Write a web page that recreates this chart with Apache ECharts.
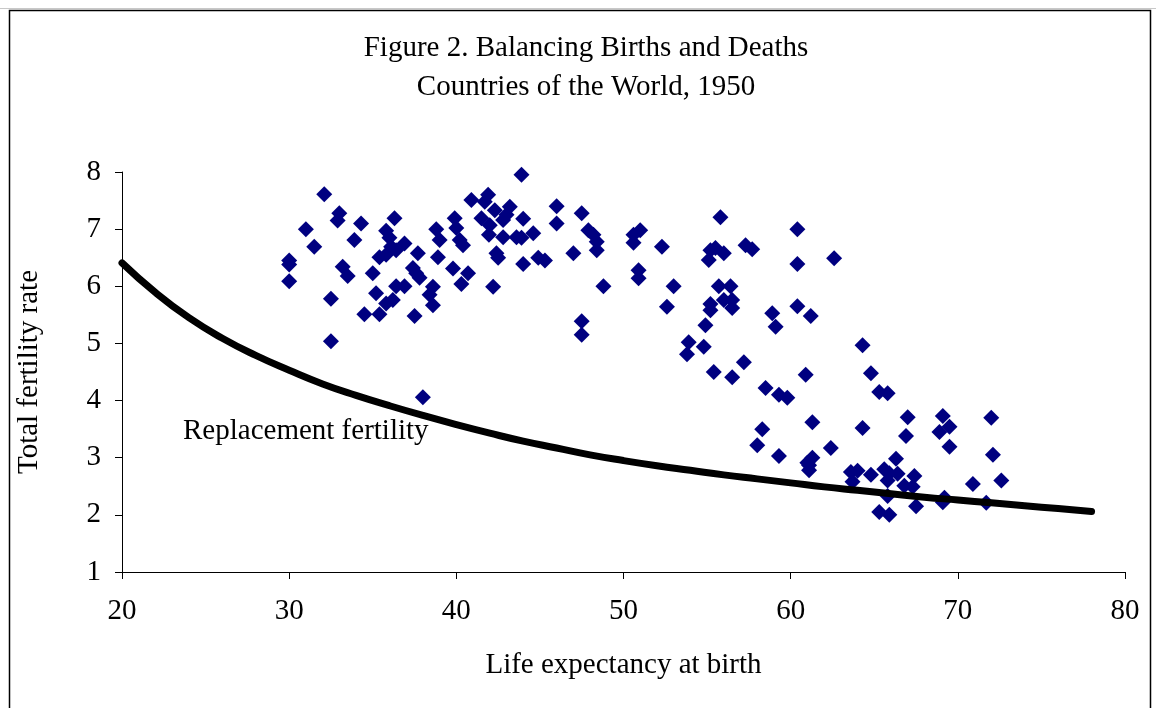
<!DOCTYPE html>
<html>
<head>
<meta charset="utf-8">
<script src="https://cdn.jsdelivr.net/npm/echarts@6/dist/echarts.min.js"></script>
<style>
html,body{margin:0;padding:0;background:#fff;}
#chart{width:1156px;height:708px;}
</style>
</head>
<body>
<div id="chart"></div>
<script>
// Scatter: countries of the world, 1950
var lifeExp = [
  30.0, 30.0, 30.0, 32.1, 33.0, 32.9, 31.0, 34.3, 36.3, 33.9,
  31.5, 33.2, 33.5, 32.5, 32.5, 35.0, 35.2, 34.5, 35.4, 35.8,
  36.2, 35.8, 36.0, 36.1, 36.9, 35.4, 35.8, 36.4, 37.7, 36.4,
  36.9, 37.4, 37.6, 37.8, 37.5, 38.8, 39.0, 38.9, 38.6, 38.4,
  38.6, 39.8, 39.9, 40.0, 40.2, 40.3, 38.0, 40.9, 43.9, 41.9,
  41.7, 42.3, 43.2, 43.0, 42.8, 41.5, 42.0, 44.0, 40.4, 41.95,
  42.8, 43.6, 43.9, 44.6, 42.4, 42.5, 44.0, 44.9, 45.3, 40.7,
  42.2, 46.0, 46.0, 47.5, 47.0, 47.9, 48.2, 48.4, 48.4, 48.8,
  47.5, 47.5, 50.6, 51.0, 50.6, 50.9, 50.9, 52.3, 55.8, 60.4,
  60.4, 55.2, 55.5, 56.0, 55.1, 57.3, 57.7, 53.0, 52.6, 55.7,
  56.4, 55.2, 55.2, 56.0, 56.5, 56.5, 54.9, 53.9, 53.8, 54.8,
  55.4, 56.5, 57.2, 58.9, 59.1, 60.4, 61.2, 60.9, 58.5, 59.3,
  59.8, 58.3, 58.0, 59.3, 61.3, 61.3, 61.0, 61.1, 61.1, 62.4,
  62.6, 64.3, 64.8, 65.3, 65.8, 64.3, 67.0, 66.9, 69.1, 69.5,
  68.9, 69.5, 72.0, 72.1, 63.6, 64.0, 63.7, 64.8, 65.6, 65.9,
  66.3, 66.4, 65.8, 66.8, 67.4, 67.3, 67.5, 65.3, 65.9, 65.8,
  69.1, 70.9, 72.6, 71.7, 69.2
];
var totalFertility = [
  6.45, 6.38, 6.09, 7.61, 7.28, 7.15, 7.00, 7.10, 7.19, 6.81,
  6.69, 6.34, 6.18, 5.78, 5.04, 6.23, 5.88, 5.51, 5.51, 5.70,
  5.76, 6.97, 6.85, 6.69, 6.75, 6.51, 6.55, 6.63, 6.58, 6.00,
  6.00, 6.32, 6.23, 6.15, 5.48, 7.00, 6.81, 6.51, 5.99, 5.85,
  5.67, 6.31, 7.19, 7.02, 6.81, 6.04, 4.06, 7.51, 7.95, 7.60,
  7.48, 7.33, 7.39, 7.25, 7.16, 7.19, 7.07, 7.18, 6.72, 6.90,
  6.86, 6.86, 6.85, 6.93, 6.58, 6.50, 6.39, 6.50, 6.45, 6.23,
  5.99, 7.40, 7.10, 7.28, 6.58, 6.98, 6.90, 6.78, 6.63, 6.00,
  5.39, 5.15, 6.90, 6.98, 6.76, 6.28, 6.14, 6.69, 7.21, 7.00,
  6.39, 6.63, 6.67, 6.58, 6.46, 6.72, 6.65, 6.00, 5.64, 6.00,
  6.00, 5.69, 5.58, 5.76, 5.76, 5.62, 5.32, 5.02, 4.81, 4.94,
  4.50, 4.41, 4.67, 5.53, 5.29, 5.65, 5.48, 4.45, 4.22, 4.10,
  4.05, 3.50, 3.22, 3.03, 3.62, 3.00, 2.91, 2.78, 2.87, 3.17,
  6.49, 4.97, 4.48, 4.15, 4.13, 3.52, 3.71, 3.38, 3.73, 3.54,
  3.45, 3.19, 3.70, 3.05, 2.75, 2.77, 2.58, 2.70, 2.80, 2.73,
  2.98, 2.72, 2.60, 2.51, 2.68, 2.49, 2.15, 2.05, 2.00, 2.33,
  2.22, 2.54, 2.60, 2.21, 2.30
];
// Replacement fertility curve
var curveX = [20, 22, 24, 26, 28, 30, 32, 34, 36, 38, 40, 42, 44, 46, 48, 50, 52, 54, 56, 58, 60, 62, 64, 66, 68, 70, 72, 74, 76, 78];
var curveY = [6.41, 5.89, 5.45, 5.09, 4.79, 4.53, 4.29, 4.09, 3.91, 3.74, 3.58, 3.43, 3.29, 3.17, 3.05, 2.95, 2.86, 2.78, 2.70, 2.63, 2.56, 2.49, 2.43, 2.37, 2.31, 2.26, 2.21, 2.16, 2.11, 2.06];
var xTicks = [20, 30, 40, 50, 60, 70, 80];
var yTicks = [1, 2, 3, 4, 5, 6, 7, 8];
var titleLines = ['Figure 2. Balancing Births and Deaths', 'Countries of the World, 1950'];
var curveLabel = 'Replacement fertility';
var xName = 'Life expectancy at birth';
var yName = 'Total fertility rate';

var FONT = '"Liberation Serif", "Times New Roman", serif';
var scatterData = lifeExp.map(function (x, i) { return [x, totalFertility[i]]; });
var curveData = curveX.map(function (x, i) { return [x, curveY[i]]; });

var chart = echarts.init(document.getElementById('chart'), null, {renderer: 'canvas'});
chart.setOption({
  animation: false,
  backgroundColor: '#fff',
  textStyle: {fontFamily: FONT, color: '#000'},
  grid: {left: 122, right: 31, top: 172, bottom: 136, containLabel: false},
  xAxis: {
    type: 'value', min: xTicks[0], max: xTicks[xTicks.length - 1], interval: 10,
    name: xName, nameLocation: 'middle', nameGap: 79,
    nameTextStyle: {fontFamily: FONT, fontSize: 29, color: '#000'},
    axisLine: {show: true, onZero: false, lineStyle: {color: '#000', width: 1}},
    axisTick: {show: true, inside: false, length: 7, lineStyle: {color: '#000'}},
    axisLabel: {fontFamily: FONT, fontSize: 29, color: '#000', margin: 25},
    splitLine: {show: false}
  },
  yAxis: {
    type: 'value', min: yTicks[0], max: yTicks[yTicks.length - 1], interval: 1,
    name: yName, nameLocation: 'middle', nameGap: 78, nameRotate: 90,
    nameTextStyle: {fontFamily: FONT, fontSize: 29, color: '#000'},
    axisLine: {show: true, onZero: false, lineStyle: {color: '#000', width: 1}},
    axisTick: {show: true, inside: false, length: 7, lineStyle: {color: '#000'}},
    axisLabel: {fontFamily: FONT, fontSize: 29, color: '#000', margin: 21},
    splitLine: {show: false}
  },
  series: [
    {
      type: 'scatter', data: scatterData, symbol: 'diamond', symbolSize: 16,
      itemStyle: {color: '#000080', opacity: 1}, z: 2
    },
    {
      type: 'line', data: curveData, smooth: true, showSymbol: false, symbol: 'none',
      lineStyle: {color: '#000', width: 7, cap: 'round'}, z: 3
    }
  ],
  graphic: [
    {type: 'line', shape: {x1: 0, y1: 8.5, x2: 1156, y2: 8.5}, style: {stroke: '#c8c8c8', lineWidth: 1}, silent: true},
    {type: 'rect', shape: {x: 9.5, y: 10.5, width: 1141, height: 710}, style: {fill: 'none', stroke: '#000', lineWidth: 1.5}, silent: true},
    {type: 'text', x: 586, y: 48, style: {text: titleLines[0], font: '29px ' + FONT, fill: '#000', textAlign: 'center', textVerticalAlign: 'middle'}},
    {type: 'text', x: 586, y: 87, style: {text: titleLines[1], font: '29px ' + FONT, fill: '#000', textAlign: 'center', textVerticalAlign: 'middle'}},
    {type: 'text', x: 183, y: 431, style: {text: curveLabel, font: '29px ' + FONT, fill: '#000', textAlign: 'left', textVerticalAlign: 'middle'}, z: 10}
  ]
});
</script>
</body>
</html>
